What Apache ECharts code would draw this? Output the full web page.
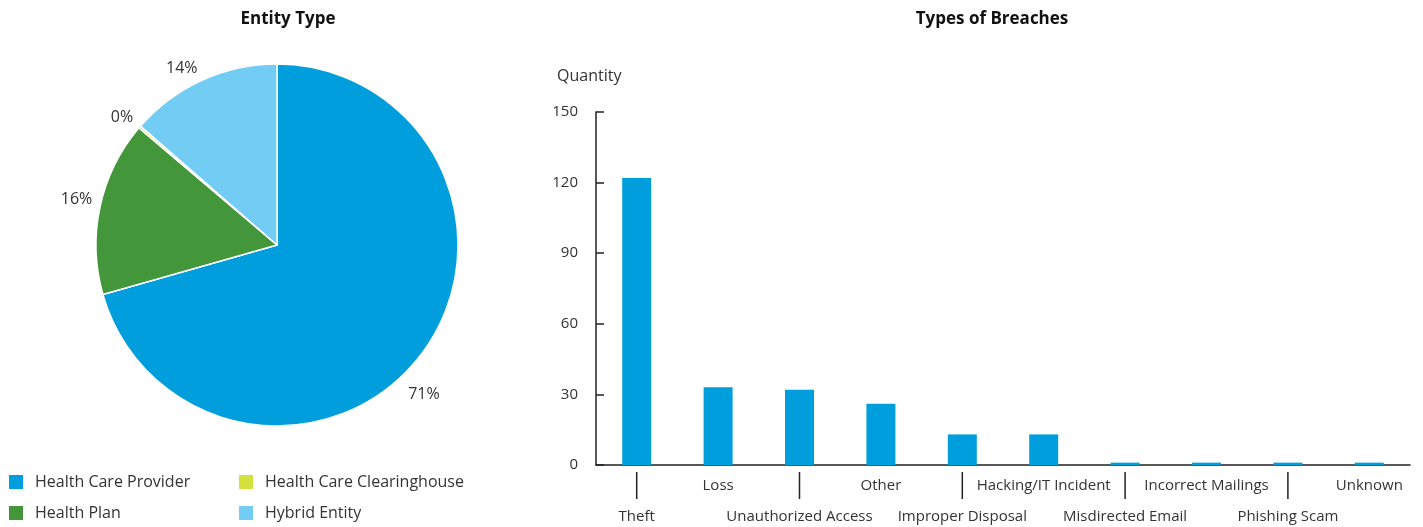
<!DOCTYPE html>
<html><head><meta charset="utf-8">
<script src="https://cdn.jsdelivr.net/npm/echarts@6/dist/echarts.min.js"></script>
<style>html,body{margin:0;padding:0;background:#fff}#c{width:1423px;height:527px}</style>
</head><body><div id="c"></div>
<script>
const pieNames = ['Health Care Provider', 'Health Plan', 'Health Care Clearinghouse', 'Hybrid Entity'];
const pieValues = [70.6, 15.6, 0.2, 13.6];
const pieColors = ['#009EDD', '#43963A', '#D4E03B', '#72CCF4'];
const barCategories = ['Theft', 'Loss', 'Unauthorized Access', 'Other', 'Improper Disposal', 'Hacking/IT Incident', 'Misdirected Email', 'Incorrect Mailings', 'Phishing Scam', 'Unknown'];
const barValues = [122, 33, 32, 26, 13, 13, 1, 1, 1, 1];
const yTicks = [0, 30, 60, 90, 120, 150];

const font = '"Open Sans", "Noto Sans", sans-serif';
const legendSpots = [[2, 468], [2, 499], [232, 468], [232, 499]];
const legends = pieNames.map((n, i) => ({
  data: [n], left: legendSpots[i][0], top: legendSpots[i][1], itemWidth: 16, itemHeight: 16, icon: 'rect',
  textStyle: { fontFamily: font, fontSize: 16, color: '#333', padding: [0, 0, 0, 6] }
}));
const chart = echarts.init(document.getElementById('c'));
chart.setOption({
  animation: false,
  textStyle: { fontFamily: font, color: '#333' },
  title: [
    { text: 'Entity Type', left: 283, top: 6, textAlign: 'center', textStyle: { fontFamily: font, fontSize: 17, fontWeight: 'bold', color: '#111' } },
    { text: 'Types of Breaches', left: 987, top: 6, textAlign: 'center', textStyle: { fontFamily: font, fontSize: 17, fontWeight: 'bold', color: '#111' } },
    { text: 'Quantity', left: 552, top: 63, textStyle: { fontFamily: font, fontSize: 16, fontWeight: 'normal', color: '#333' } }
  ],
  legend: legends,
  grid: { left: 596, right: 13, top: 112, bottom: 62, containLabel: false },
  xAxis: {
    type: 'category', data: barCategories,
    axisLine: { lineStyle: { color: '#222', width: 1.5 } },
    axisTick: { show: false },
    axisLabel: {
      interval: 0, margin: 5,
      formatter: (v, i) => i % 2 === 0 ? '{bar|}\n{t|' + v + '}' : '{t|' + v + '}\n{t| }',
      rich: {
        t: { fontFamily: font, fontSize: 15, color: '#333', lineHeight: 31 },
        bar: { width: 1.5, height: 27, backgroundColor: '#222', lineHeight: 31 }
      }
    }
  },
  yAxis: {
    type: 'value', min: 0, max: 150, interval: 30,
    axisLine: { show: true, lineStyle: { color: '#222', width: 1.5 } },
    axisTick: { show: true, inside: true, length: 8, lineStyle: { color: '#222', width: 1.5 } },
    splitLine: { show: false },
    axisLabel: { margin: 18, fontFamily: font, fontSize: 15, color: '#333',
      formatter: v => yTicks.includes(v) ? String(v) : '' }
  },
  series: [
    {
      type: 'pie', center: [277, 245], radius: 181, startAngle: 90, clockwise: true,
      avoidLabelOverlap: false,
      data: pieNames.map((n, i) => ({ name: n, value: pieValues[i], itemStyle: { color: pieColors[i] },
        label: { offset: i === 0 ? [-23, 37] : [3, -6] } })),
      itemStyle: { borderColor: '#fff', borderWidth: 1.5 },
      label: { show: true, position: 'outside', fontFamily: font, fontSize: 16, color: '#333',
        formatter: p => Math.round(p.value) + '%' },
      labelLine: { show: false, length: 6, length2: 0 },
      emphasis: { disabled: true }
    },
    {
      type: 'bar', data: barValues, barWidth: 29,
      itemStyle: { color: '#009EDD' }
    }
  ]
});
</script></body></html>
